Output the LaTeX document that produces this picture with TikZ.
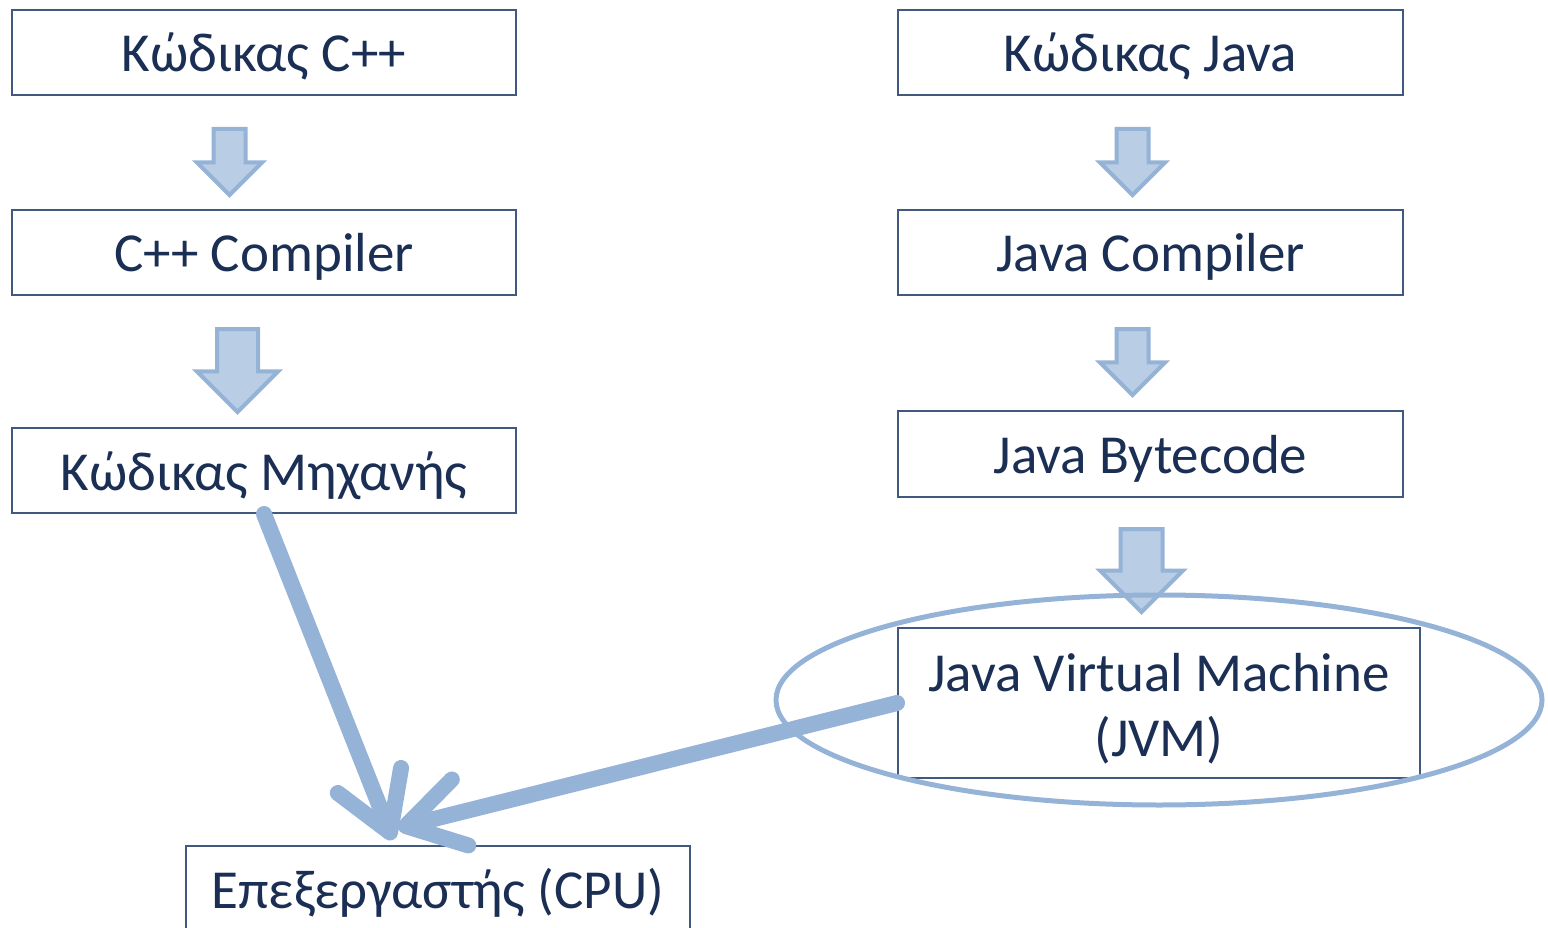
\documentclass[tikz,border=0pt]{standalone}
\usepackage{fontspec}
\setmainfont{Carlito}
\usetikzlibrary{shapes.geometric,shapes.arrows,arrows.meta}
\definecolor{boxline}{HTML}{41597F}
\definecolor{boxtext}{HTML}{1B2F55}
\definecolor{arrline}{HTML}{95B3D7}
\definecolor{arrfill}{HTML}{B9CDE5}

\begin{document}
\begin{tikzpicture}[x=1pt, y=-1pt,
		box/.style={draw=boxline, line width=2pt, fill=white, text=boxtext, minimum width=504pt, minimum height=85pt, inner sep=0pt, font=\fontsize{55}{65}\selectfont},
		onebox/.style={box, text height=50pt, text depth=11pt},
		downarr/.style={single arrow, rotate=-90, anchor=tail, draw=arrline, fill=arrfill, line width=4pt, single arrow head extend=#1, inner xsep=0pt},
		thickarr/.style={draw=arrline, line width=16pt, line cap=round, -{Straight Barb[length=56pt, width=68pt, round]}}]
			\useasboundingbox (0,0) rectangle (1548,928);
			%%%%%%%%%%%%%%%%%%%%%%%%%%%%%%%%
			\node[onebox] (cppcode) at (264,52.5){Κώδικας C++};
			\node[onebox] (cppcomp) at (264,252.5){C++ Compiler};
			\node[onebox] (machcode) at (264,470.5){Κώδικας Μηχανής};
			\node[onebox, minimum width=505pt] (javacode) at (1150.5,52.5){Κώδικας Java};
			\node[onebox, minimum width=505pt] (javacomp) at (1150.5,252.5){Java Compiler};
			\node[onebox, minimum width=505pt, minimum height=86pt] (bytecode) at (1150.5,454){Java Bytecode};
			\node[box, minimum width=522pt, minimum height=150pt, align=center] (jvm) at (1159,703){\rule{0pt}{49pt}Java Virtual Machine\\(JVM)};
			\node[onebox] (cpu) at (438,888.5){Επεξεργαστής (CPU)};
			%%%%%%%%%%%%%%%%%%%%%%%%%%%%%%%%
			\node[downarr=16.5pt, inner ysep=14pt, minimum height=66pt] (cpparr1) at (229.5,127){};
			\node[downarr=20pt, inner ysep=18.5pt, minimum height=83pt] (cpparr2) at (237.5,327){};
			\node[downarr=16.5pt, inner ysep=14pt, minimum height=66pt] (javaarr1) at (1132.5,127){};
			\node[downarr=16.5pt, inner ysep=14pt, minimum height=66pt] (javaarr2) at (1132.5,327){};
			\node[downarr=20.5pt, inner ysep=19pt, minimum height=83pt] (javaarr3) at (1141.5,527){};
			%%%%%%%%%%%%%%%%%%%%%%%%%%%%%%%%
			\node[ellipse, draw=arrline, line width=5pt, minimum width=766pt, minimum height=210pt] (jvmring) at (1159,700){};
			%%%%%%%%%%%%%%%%%%%%%%%%%%%%%%%%
			\coordinate (tipa) at (393,840);
			\coordinate (tipb) at (398,828);
			\draw[thickarr] (machcode.south) -- (tipa);
			\draw[thickarr] (jvm.west) -- (tipb);
		\end{tikzpicture}
\end{document}
